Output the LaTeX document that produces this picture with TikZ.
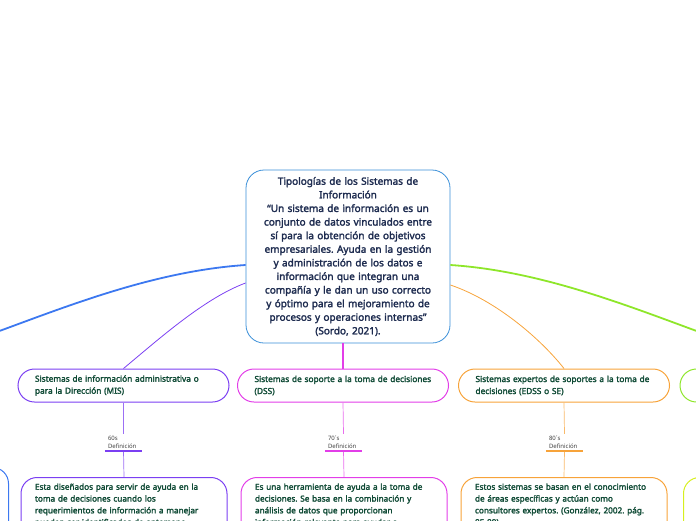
\documentclass[tikz,border=0pt]{standalone}
\usepackage{fontspec}
\setmainfont{Noto Sans}[AutoFakeBold=2.2]
\frenchspacing
\usetikzlibrary{positioning}
\definecolor{centreblue}{HTML}{3A8FD8}
\definecolor{branchblue}{HTML}{3C78F0}
\definecolor{misviolet}{HTML}{7B3FF2}
\definecolor{dssmagenta}{HTML}{E23EE8}
\definecolor{edssorange}{HTML}{F7A33A}
\definecolor{limegreen}{HTML}{8EE62A}
\definecolor{yellowgreen}{HTML}{D6EF1F}
\definecolor{navytext}{HTML}{1D2B4F}
\definecolor{greentext}{HTML}{0F4A35}

\begin{document}
\begin{tikzpicture}[x=1pt,y=-1pt]

        % Setup the styles for the topics
        \tikzset{main style/.style={draw=centreblue, line width=0.8pt,
                                    rounded corners=18pt,
                                    text width=194pt, inner xsep=5pt,
                                    minimum height=173pt, align=center,
                                    text=navytext,
                                    font=\bfseries\fontsize{10}{13.6}\selectfont},
                 topic style/.style={rounded corners=16.5pt, line width=1pt,
                                    minimum height=33pt,
                                    text width=177pt, inner xsep=17pt,
                                    align=left, text=greentext,
                                    font=\bfseries\fontsize{8.3}{12}\selectfont},
                 def style/.style={rounded corners=16pt, line width=1pt,
                                    anchor=north, text width=178pt,
                                    inner xsep=14pt, inner ysep=6pt,
                                    text depth=60pt, align=left,
                                    text=greentext,
                                    font=\bfseries\fontsize{8.2}{11.8}\selectfont},
                 tag style/.style={anchor=south, text width=31pt,
                                    inner xsep=3pt, inner ysep=2pt,
                                    align=left, text=black!75,
                                    font=\fontsize{6}{8}\selectfont}}

        \useasboundingbox (0,0) rectangle (696,520);
        \clip (0,0) rectangle (696,520);

        % Draw the central topic
        \node[main style] at (348, 256.5)    (main)    {Tipologías de los Sistemas de\\Información\\
            “Un sistema de información es un\\conjunto de datos vinculados entre\\
            sí para la obtención de objetivos\\empresariales. Ayuda en la gestión\\
            y administración de los datos e\\información que integran una\\
            compañía y le dan un uso correcto\\y óptimo para el mejoramiento de\\
            procesos y operaciones internas”\\(Sordo, 2021).};

        % Draw the main topics
        \node[topic style, draw=misviolet] at (123.5, 385.5)    (mis)    {Sistemas de información administrativa o\\para la Dirección (MIS)};
        \node[topic style, draw=dssmagenta] at (343, 385.5)     (dss)    {Sistemas de soporte a la toma de decisiones\\(DSS)};
        \node[topic style, draw=edssorange] at (564, 385.5)     (edss)   {Sistemas expertos de soportes a la toma de\\decisiones (EDSS o SE)};
        \node[topic style, draw=limegreen] at (785.5, 385.5)    (next)   {};
        \coordinate (bluehub) at (-40, 345);

        % Draw the decade tags
        \node[tag style] at (123.5, 451)    (t60)    {60s\\Definición};
        \node[tag style] at (343.5, 451)    (t70)    {70´s\\Definición};
        \node[tag style] at (564.5, 451)    (t80)    {80´s\\Definición};

        % Draw the definitions
        \node[def style, draw=misviolet] at (124, 477)    (misdef)    {Esta diseñados para servir de ayuda en la\\
            toma de decisiones cuando los\\requerimientos de información a manejar\\pueden ser identificados de antemano.};
        \node[def style, draw=dssmagenta] at (344, 477)    (dssdef)    {Es una herramienta de ayuda a la toma de\\
            decisiones. Se basa en la combinación y\\análisis de datos que proporcionan\\información relevante para ayudar a};
        \node[def style, draw=edssorange] at (564, 477)    (edssdef)   {Estos sistemas se basan en el conocimiento\\
            de áreas específicas y actúan como\\consultores expertos. (González, 2002. pág.\\85-89).};
        \node[def style, draw=branchblue, anchor=north east] at (9, 467)     (bluedef)   {};
        \node[def style, draw=yellowgreen, anchor=north west] at (683, 477)  (nextdef)   {};

        % Connect the central topic with the main topics
        \draw[branchblue, line width=1.8pt] ([yshift=-8.5pt]main.west) .. controls (140,272) and (40,318) .. (bluehub);
        \draw[misviolet, line width=0.8pt] ([yshift=-26.5pt]main.west) .. controls (205,298) and (160,338) .. (mis.north);
        \draw[dssmagenta, line width=1.3pt] (dss.north |- main.south) -- (dss.north);
        \draw[edssorange, line width=0.8pt] ([yshift=-28.5pt]main.east) .. controls (495,300) and (540,338) .. (edss.north);
        \draw[limegreen, line width=1.8pt] ([yshift=-8.5pt]main.east) .. controls (556,272) and (656,318) .. (736,345);

        % Connect the main topics with the definitions
        \foreach \topic/\tag/\defn/\col in {mis/t60/misdef/misviolet, dss/t70/dssdef/dssmagenta, edss/t80/edssdef/edssorange} {
            \draw[\col!75, line width=0.7pt] (\topic.south) -- (\tag.north);
            \draw[\col!75, line width=0.7pt] (\tag.south) -- (\defn.north);
            \draw[\col, line width=1.8pt] (\tag.south west) -- (\tag.south east);
        }
\end{tikzpicture}
\end{document}
